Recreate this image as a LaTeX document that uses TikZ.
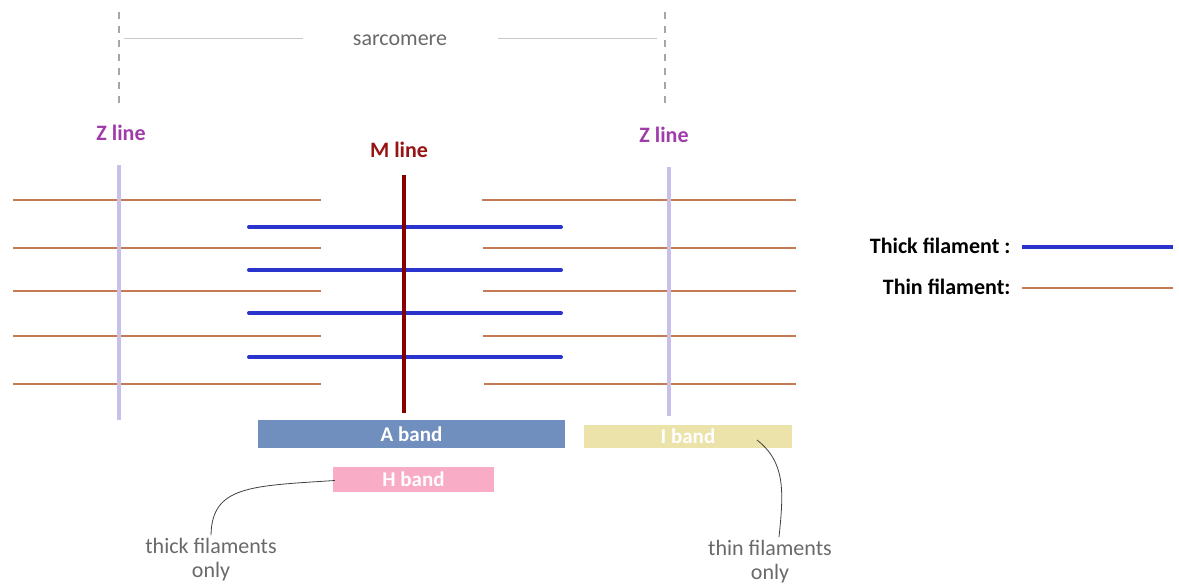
\documentclass[tikz,border=0pt]{standalone}
\usepackage{fontspec}
\setmainfont{Carlito}
\definecolor{thin}{RGB}{196,122,84}
\definecolor{thick}{RGB}{42,52,204}
\definecolor{zcol}{RGB}{200,192,235}
\definecolor{mcol}{RGB}{135,0,0}
\definecolor{zlab}{RGB}{160,60,170}
\definecolor{mlab}{RGB}{150,20,20}
\definecolor{aband}{RGB}{112,142,190}
\definecolor{iband}{RGB}{236,227,170}
\definecolor{hband}{RGB}{248,172,198}
\definecolor{gtext}{RGB}{105,105,105}
\definecolor{glines}{RGB}{200,200,200}
\tikzset{
  thinfil/.style={draw=thin, line width=2.8pt},
  thickfil/.style={draw=thick, line width=4pt, line cap=round},
  zl/.style={draw=zcol, line width=3.4pt},
  lab/.style={font=\fontsize{22}{25}\selectfont\bfseries},
  gl/.style={font=\fontsize{22}{24}\selectfont, text=gtext, align=center},
  bandbox/.style={inner sep=0pt, font=\fontsize{21}{24}\selectfont\bfseries, text=white},
  conn/.style={draw=black!75, line width=0.8pt},
}
\begin{document}
\begin{tikzpicture}[x=1pt,y=-1pt]
\useasboundingbox (0,0) rectangle (1179,586);
% sarcomere dashed markers
\coordinate (dl1) at (119,12); \coordinate (dl2) at (119,105);
\coordinate (dr1) at (665,12); \coordinate (dr2) at (665,105);
\draw[gray!70, line width=1.2pt, dash pattern=on 7pt off 7pt] (dl1) -- (dl2);
\draw[gray!70, line width=1.2pt, dash pattern=on 7pt off 7pt] (dr1) -- (dr2);
\node[gl] (sarc) at (400,40) {sarcomere};
\coordinate (sl) at (124,39); \coordinate (sr) at (657,39);
\draw[glines, line width=1pt] (sl) -- (303,39);
\draw[glines, line width=1pt] (498,39) -- (sr);
% labels
\node[lab, text=zlab] (z1) at (121,133) {Z line};
\node[lab, text=zlab] (z2) at (664,135) {Z line};
\node[lab, text=mlab] (ml) at (399,150) {M line};
% thin filaments
\foreach \y/\a in {200/482,248/483,291/483,336/483,384/484}{
  \draw[thinfil] (13,\y) -- (321,\y);
  \draw[thinfil] (\a,\y) -- (796,\y);
}
% Z lines
\draw[zl] (119,165) -- (119,420);
\draw[zl] (669,167) -- (669,416);
% thick filaments
\foreach \y in {227,270,313,357}{
  \draw[thickfil] (249,\y) -- (561,\y);
}
% M line
\draw[draw=mcol, line width=3.4pt] (404,175) -- (404,413);
% bands
\node[bandbox, fill=aband, minimum width=307pt, minimum height=28pt] (ab) at (411.5,434) {A band};
\node[bandbox, fill=iband, minimum width=208pt, minimum height=23pt] (ib) at (688,436) {I band};
\node[bandbox, fill=hband, minimum width=161pt, minimum height=25pt] (hb) at (413.5,479.5) {H band};
% notes
\node[gl] (tk) at (211,560) {thick filaments\\only};
\node[gl] (tn) at (770,562) {thin filaments\\only};
\draw[conn] (hb.west) ++(2,1) coordinate (hs) .. controls (250,486) and (212,486) .. (tk.north);
\coordinate (is) at (757,440);
\draw[conn] (is) .. controls (785,462) and (784,490) .. (tn.north -| 779,0);
% legend
\node[lab, anchor=east] (lt) at (1014,246) {Thick filament :};
\node[lab, anchor=east] (ln) at (1014,287) {Thin filament:};
\draw[draw=thick, line width=4pt] (lt.east) ++(8,1) -- (1173,247);
\draw[draw=thin, line width=2.8pt] (ln.east) ++(8,1) -- (1173,288);
\end{tikzpicture}
\end{document}
